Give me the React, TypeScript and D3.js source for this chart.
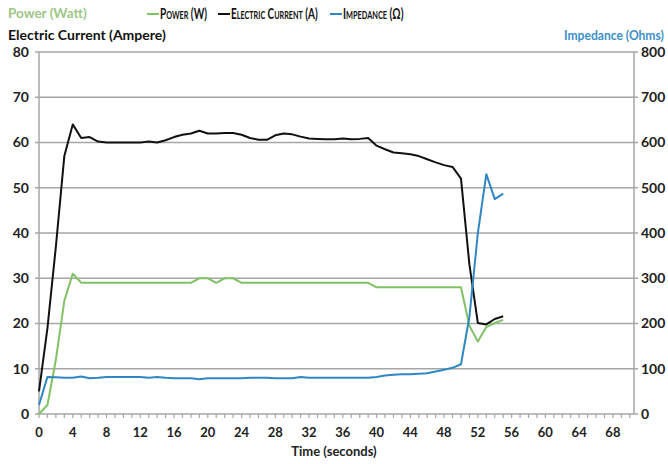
import React, { useRef, useLayoutEffect, useState } from "react";
import * as d3 from "d3";

const seconds = d3.range(0, 56);
const powerW = [0, 2, 12, 25, 31, 29, 29, 29, 29, 29, 29, 29, 29, 29, 29, 29, 29, 29, 29, 30, 30, 29, 30, 30, 29, 29, 29, 29, 29, 29, 29, 29, 29, 29, 29, 29, 29, 29, 29, 29, 28, 28, 28, 28, 28, 28, 28, 28, 28, 28, 28, 19.5, 16, 19.2, 20.1, 20.8];
const currentA = [5, 19, 37, 57, 64, 61, 61.2, 60.2, 60, 60, 60, 60, 60, 60.2, 60, 60.5, 61.2, 61.7, 62, 62.6, 62, 62, 62.1, 62.1, 61.7, 61, 60.6, 60.6, 61.6, 62, 61.8, 61.3, 60.9, 60.8, 60.7, 60.7, 60.9, 60.7, 60.8, 61, 59.3, 58.5, 57.8, 57.6, 57.4, 57, 56.3, 55.6, 55, 54.6, 52, 33, 20.1, 19.8, 21, 21.6];
const impedanceOhm = [20, 82, 81, 80, 80, 83, 79, 80, 82, 82, 82, 82, 82, 80, 82, 80, 79, 79, 79, 77, 79, 79, 79, 79, 79, 80, 80, 80, 79, 79, 79, 82, 80, 80, 80, 80, 80, 80, 80, 80, 82, 85, 87, 88, 88, 89, 90, 94, 98, 102, 110, 215, 400, 530, 475, 487];
const xTicks = d3.range(0, 69, 4);
const leftTicks = [0, 10, 20, 30, 40, 50, 60, 70, 80];
const rightTicks = [0, 100, 200, 300, 400, 500, 600, 700, 800];

const GREEN = "#82c266";
const BLACK = "#111111";
const BLUE = "#2f88c3";
const GRID = "#a6a6a6";
const FONT = "Lato, 'Open Sans', sans-serif";

// text squeezed horizontally to a given width (the original font is narrower)
const FitText = ({ x, y, w, children, ...rest }: any) => {
  const ref = useRef<SVGTextElement>(null);
  const [k, setK] = useState(1);
  useLayoutEffect(() => {
    if (ref.current) {
      const n = ref.current.getComputedTextLength();
      if (n > 0) setK(Math.min(1, w / n));
    }
  }, [w]);
  return (
    <text ref={ref} transform={`translate(${x},${y}) scale(${k},1)`} {...rest}>{children}</text>
  );
};

const App = () => {
  const x = d3.scaleLinear().domain([0, 70.5]).range([39, 634]);
  const yL = d3.scaleLinear().domain([0, 80]).range([414, 52]);
  const yR = d3.scaleLinear().domain([0, 800]).range([414, 52]);

  const lineL = d3.line<number>().x((d, i) => x(seconds[i])).y(d => yL(d));
  const lineR = d3.line<number>().x((d, i) => x(seconds[i])).y(d => yR(d));

  // legend: swatch start, text width
  const legend = [
    { label: "Power (W)", color: GREEN, x: 147, w: 46 },
    { label: "Electric Current (A)", color: BLACK, x: 218, w: 84 },
    { label: "Impedance (Ω)", color: BLUE, x: 330, w: 59 },
  ];

  return (
    <svg width={668} height={464} style={{ position: "absolute", left: 0, top: 0, background: "#fff" }} fontFamily={FONT}>
      {/* grid */}
      {leftTicks.map(t => (
        <line key={"g" + t} x1={x(0)} x2={x(70.5)} y1={yL(t)} y2={yL(t)} stroke={GRID} strokeWidth={1.5} />
      ))}
      {/* axes */}
      <line x1={x(0)} x2={x(0)} y1={yL(0)} y2={yL(80)} stroke={GRID} strokeWidth={1.5} />
      <line x1={x(70.5)} x2={x(70.5)} y1={yL(0)} y2={yL(80)} stroke={GRID} strokeWidth={1.5} />
      {leftTicks.map(t => (
        <g key={"l" + t}>
          <line x1={x(0) - 4} x2={x(0)} y1={yL(t)} y2={yL(t)} stroke={GRID} strokeWidth={1.5} />
          <text x={29} y={yL(t)} dy="0.35em" textAnchor="end" fontSize={14} fontWeight={700} fill="#222">{t}</text>
        </g>
      ))}
      {rightTicks.map(t => (
        <g key={"r" + t}>
          <line x1={x(70.5)} x2={x(70.5) + 4} y1={yR(t)} y2={yR(t)} stroke={GRID} strokeWidth={1.5} />
          <text x={641} y={yR(t)} dy="0.35em" textAnchor="start" fontSize={14} fontWeight={700} fill="#222">{t}</text>
        </g>
      ))}
      {d3.range(0, 71).map(t => (
        <line key={"m" + t} x1={x(t)} x2={x(t)} y1={yL(0)} y2={yL(0) + 4} stroke={GRID} strokeWidth={1.2} />
      ))}
      {xTicks.map(t => (
        <text key={"x" + t} x={x(t)} y={432} dy="0.35em" textAnchor="middle" fontSize={13} fontWeight={700} fill="#222">{t}</text>
      ))}
      <text x={334} y={456} textAnchor="middle" fontSize={13} fontWeight={700} fill="#222">Time (seconds)</text>

      {/* series */}
      <path d={lineL(powerW) || ""} fill="none" stroke={GREEN} strokeWidth={2} strokeLinejoin="round" />
      <path d={lineL(currentA) || ""} fill="none" stroke={BLACK} strokeWidth={2} strokeLinejoin="round" />
      <path d={lineR(impedanceOhm) || ""} fill="none" stroke={BLUE} strokeWidth={2} strokeLinejoin="round" />

      {/* titles */}
      <FitText x={8} y={18} w={79} fontSize={13.5} fontWeight={700} fill="#9cc685">Power (Watt)</FitText>
      <text x={8} y={40} fontSize={14} fontWeight={700} fill="#111">Electric Current (Ampere)</text>
      <FitText x={564} y={40} w={100} fontSize={13.5} fontWeight={700} fill="#3b8fc8">Impedance (Ohms)</FitText>

      {/* legend */}
      {legend.map(l => (
        <g key={l.label}>
          <line x1={l.x} x2={l.x + 12} y1={14} y2={14} stroke={l.color} strokeWidth={2} />
          <FitText x={l.x + 13} y={19} w={l.w} fontSize={14.5} fontWeight={700} fill="#111" style={{ fontVariant: "small-caps" }}>{l.label}</FitText>
        </g>
      ))}
    </svg>
  );
};

export default App;
